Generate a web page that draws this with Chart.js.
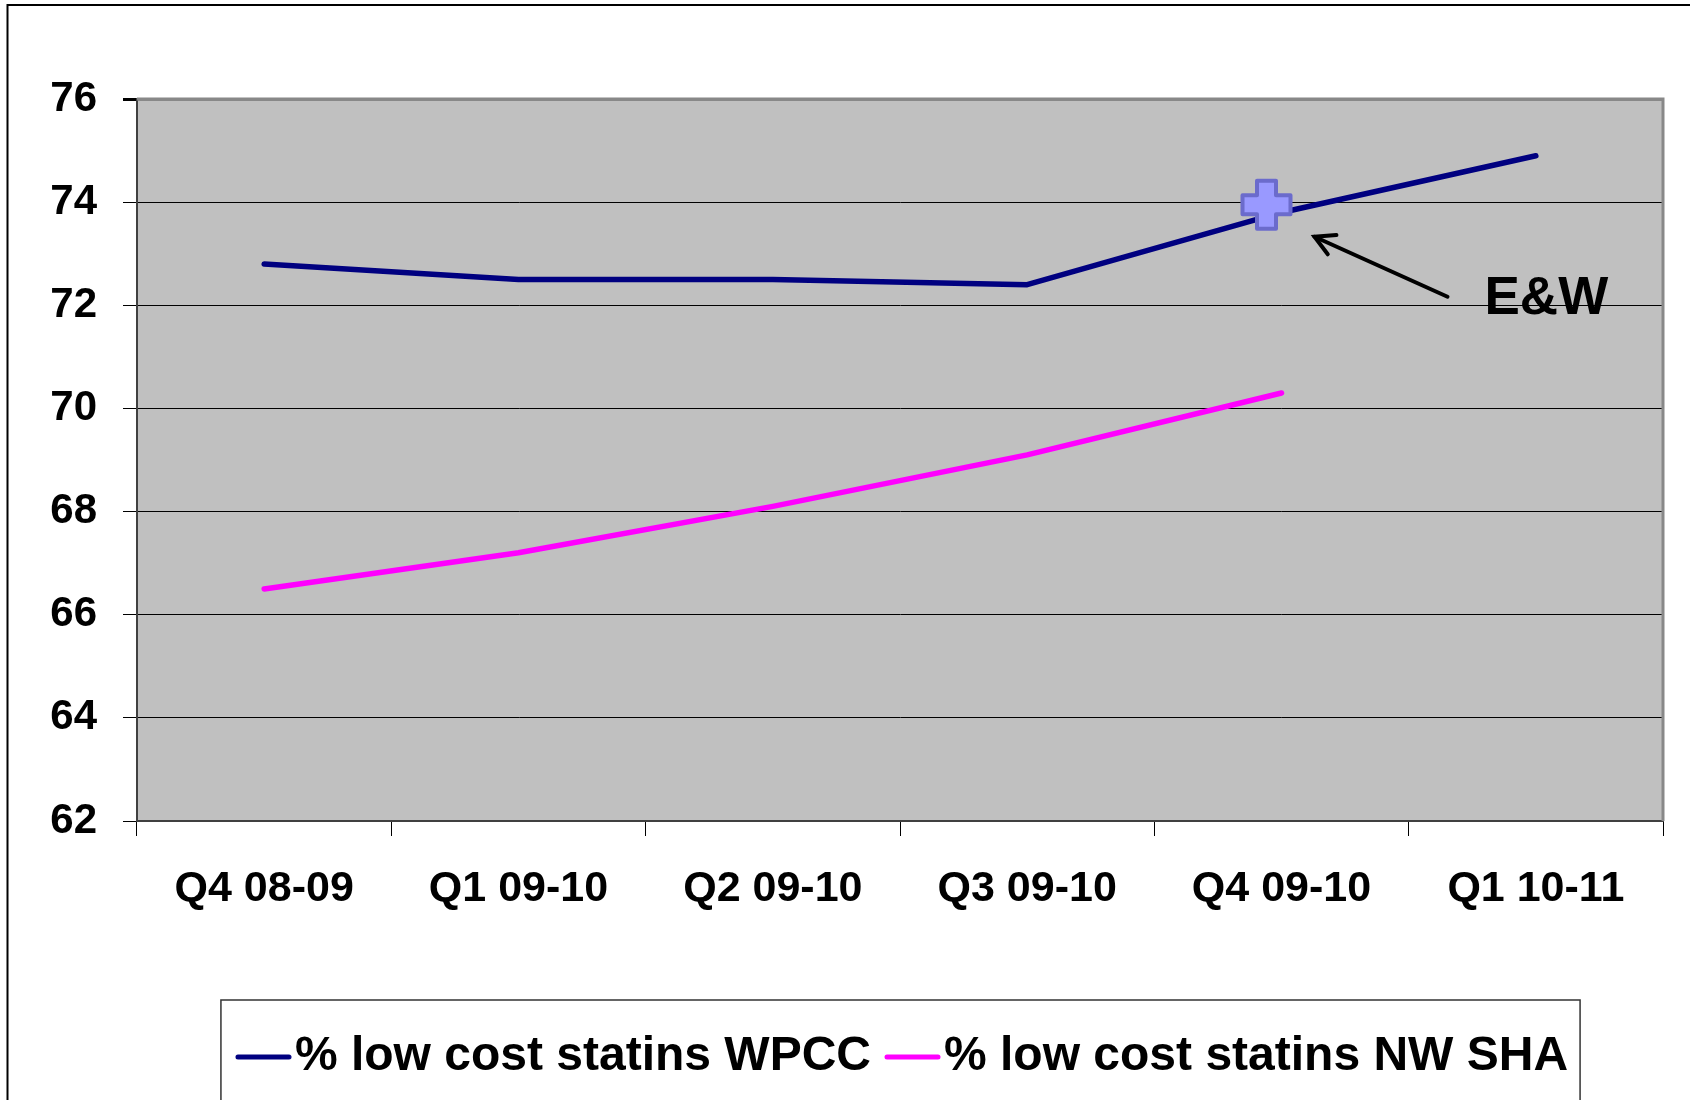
<!DOCTYPE html>
<html>
<head>
<meta charset="utf-8">
<script src="https://cdn.jsdelivr.net/npm/chart.js@4.4.1/dist/chart.umd.min.js"></script>
<style>
  html, body { margin: 0; padding: 0; background: #fff; }
</style>
</head>
<body>
<canvas id="statins" width="1690" height="1100"></canvas>
<script>
const quarters = ['Q4 08-09', 'Q1 09-10', 'Q2 09-10', 'Q3 09-10', 'Q4 09-10', 'Q1 10-11'];
const wpcc = [72.8, 72.5, 72.5, 72.4, 73.8, 74.9];
const nwSha = [66.5, 67.2, 68.1, 69.1, 70.3, null];
const yTicks = [62, 64, 66, 68, 70, 72, 74, 76];
// England & Wales marker
const ewLabel = 'E&W';
const ewQuarter = 'Q4 09-10';
const ewValue = 73.95;

const FONT = "'Liberation Sans', Arial, Helvetica, sans-serif";
Chart.defaults.font.family = FONT;
Chart.defaults.color = '#000';

// short thick line used as the legend symbol
function lineSample(color) {
  const c = document.createElement('canvas');
  c.width = 57;
  c.height = 6;
  const g = c.getContext('2d');
  g.strokeStyle = color;
  g.lineWidth = 5;
  g.lineCap = 'round';
  g.beginPath();
  g.moveTo(3, 3);
  g.lineTo(54, 3);
  g.stroke();
  return c;
}

const frame = {
  id: 'frame',
  afterLayout(chart) {
    // legend sits a little right of centre in the original
    const lg = chart.legend;
    lg.left += 12;
    lg.right += 12;
  },
  beforeDraw(chart) {
    const {ctx, chartArea: a} = chart;
    ctx.save();
    ctx.fillStyle = '#fff';
    ctx.fillRect(0, 0, chart.width, chart.height);
    ctx.fillStyle = '#c0c0c0';
    ctx.fillRect(a.left, a.top, a.right - a.left, a.bottom - a.top);
    ctx.strokeStyle = '#000';
    ctx.lineWidth = 2;
    ctx.beginPath();
    ctx.moveTo(7.5, chart.height);
    ctx.lineTo(7.5, 5);
    ctx.lineTo(chart.width, 5);
    ctx.stroke();
    ctx.restore();
  },
  beforeDatasetsDraw(chart) {
    const {ctx, chartArea: a} = chart;
    ctx.save();
    ctx.strokeStyle = '#888';
    ctx.lineWidth = 3;
    ctx.beginPath();
    ctx.moveTo(a.left, a.top);
    ctx.lineTo(a.right, a.top);
    ctx.lineTo(a.right, a.bottom);
    ctx.stroke();
    ctx.restore();
  },
  afterDraw(chart) {
    const {ctx} = chart;
    const xs = chart.scales.x, ys = chart.scales.y;
    const cx = xs.getPixelForValue(quarters.indexOf(ewQuarter)) - 15;
    const cy = ys.getPixelForValue(ewValue);
    ctx.save();

    // plus marker
    const h = 24, t = 9.5;
    const pts = [[-t, -h], [t, -h], [t, -t], [h, -t], [h, t], [t, t], [t, h], [-t, h], [-t, t], [-h, t], [-h, -t], [-t, -t]];
    ctx.beginPath();
    pts.forEach(([dx, dy], i) => i ? ctx.lineTo(cx + dx, cy + dy) : ctx.moveTo(cx + dx, cy + dy));
    ctx.closePath();
    ctx.fillStyle = '#9999ff';
    ctx.fill();
    ctx.lineJoin = 'round';
    ctx.lineWidth = 4;
    ctx.strokeStyle = '#6b6bcc';
    ctx.stroke();

    // arrow pointing at the marker
    const tipX = cx + 48, tipY = cy + 32;
    const tailX = cx + 181, tailY = cy + 92;
    const ang = Math.atan2(tipY - tailY, tipX - tailX);
    ctx.strokeStyle = '#000';
    ctx.lineWidth = 4;
    ctx.lineCap = 'round';
    ctx.lineJoin = 'miter';
    ctx.beginPath();
    ctx.moveTo(tailX, tailY);
    ctx.lineTo(tipX, tipY);
    ctx.stroke();
    ctx.beginPath();
    ctx.moveTo(tipX + 22 * Math.cos(ang + Math.PI - 0.5), tipY + 22 * Math.sin(ang + Math.PI - 0.5));
    ctx.lineTo(tipX, tipY);
    ctx.lineTo(tipX + 22 * Math.cos(ang + Math.PI + 0.5), tipY + 22 * Math.sin(ang + Math.PI + 0.5));
    ctx.stroke();

    ctx.fillStyle = '#000';
    ctx.font = 'bold 53px ' + FONT;
    ctx.textAlign = 'left';
    ctx.textBaseline = 'alphabetic';
    ctx.fillText(ewLabel, cx + 218, cy + 109);

    // box around the legend
    const hb = chart.legend.legendHitBoxes;
    if (hb && hb.length) {
      const last = hb[hb.length - 1];
      const left = hb[0].left - 35;
      const right = last.left + last.width + 12;
      const top = chart.legend.top + 1;
      ctx.strokeStyle = '#333';
      ctx.lineWidth = 1.5;
      ctx.strokeRect(left, top, right - left, chart.height + 20 - top);
    }
    ctx.restore();
  }
};

new Chart(document.getElementById('statins'), {
  type: 'line',
  data: {
    labels: quarters,
    datasets: [
      {
        label: '% low cost statins WPCC',
        data: wpcc,
        borderColor: '#000080',
        backgroundColor: '#000080',
        borderWidth: 5.5,
        borderCapStyle: 'round',
        borderJoinStyle: 'round',
        pointRadius: 0,
        tension: 0,
      },
      {
        label: '% low cost statins NW SHA',
        data: nwSha,
        borderColor: '#ff00ff',
        backgroundColor: '#ff00ff',
        borderWidth: 5.5,
        borderCapStyle: 'round',
        borderJoinStyle: 'round',
        pointRadius: 0,
        tension: 0,
      },
    ],
  },
  options: {
    responsive: false,
    animation: false,
    devicePixelRatio: 1,
    layout: { padding: { left: 37, right: 27, top: 99, bottom: 9 } },
    scales: {
      x: {
        offset: true,
        grid: { offset: true, drawOnChartArea: false, drawTicks: true, tickLength: 15, color: '#000', lineWidth: 1 },
        border: { color: '#404040', width: 2 },
        ticks: { font: { size: 43, weight: 'bold' }, padding: 27, maxRotation: 0, autoSkip: false },
        afterFit: (s) => { s.height = 178; },
      },
      y: {
        min: 62,
        max: 76,
        afterBuildTicks: (s) => { s.ticks = yTicks.map((v) => ({ value: v })); },
        grid: {
          color: (c) => (c.tick && c.tick.value === 76 ? '#888' : '#000'),
          lineWidth: (c) => (c.tick && c.tick.value === 76 ? 3 : 1),
          tickColor: '#000',
          tickLength: 14,
        },
        border: { color: '#404040', width: 2 },
        ticks: { font: { size: 42, weight: 'bold' }, padding: 26 },
        afterFit: (s) => { s.width = 100; },
      },
    },
    plugins: {
      tooltip: { enabled: false },
      legend: {
        position: 'bottom',
        fullSize: false,
        labels: {
          usePointStyle: true,
          boxWidth: 15,
          boxHeight: 48,
          padding: 34,
          color: '#000',
          font: { size: 48, weight: 'bold' },
          generateLabels: (chart) => chart.data.datasets.map((ds, i) => ({
            text: ds.label,
            pointStyle: lineSample(ds.borderColor),
            fillStyle: ds.borderColor,
            strokeStyle: ds.borderColor,
            lineWidth: 0,
            hidden: false,
            datasetIndex: i,
          })),
        },
      },
    },
  },
  plugins: [frame],
});
</script>
</body>
</html>
